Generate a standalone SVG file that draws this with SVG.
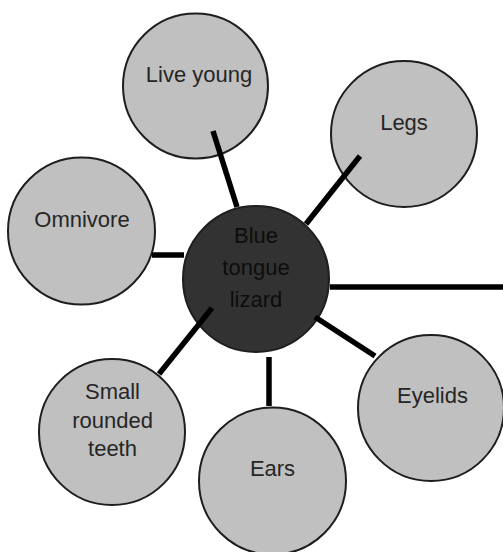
<svg xmlns="http://www.w3.org/2000/svg" width="503" height="552" viewBox="0 0 503 552">
<style>
.outer{fill:#c0c0c0;stroke:#1e1e1e;stroke-width:2}
.center{fill:#323232;stroke:#1e1e1e;stroke-width:2}
text{font-family:"Liberation Sans",Arial,sans-serif;font-size:22px;text-anchor:middle}
.lt{fill:#262626}
.dk{fill:#0d0d0d}
.conn line{stroke:#000;stroke-width:5.5}
</style>
<rect width="503" height="552" fill="#fff"/>
<g id="node-live-young"><circle class="outer" cx="195.5" cy="86" r="72.5"/><text class="lt" x="199" y="82">Live young</text></g>
<g id="node-legs"><circle class="outer" cx="404" cy="134" r="73"/><text class="lt" x="404" y="130">Legs</text></g>
<g id="node-omnivore"><circle class="outer" cx="81.5" cy="231" r="73.5"/><text class="lt" x="82" y="227">Omnivore</text></g>
<g id="node-small-rounded-teeth"><circle class="outer" cx="112" cy="432" r="73"/><text class="lt" x="112.5" y="399">Small</text><text class="lt" x="112.5" y="428">rounded</text><text class="lt" x="112.5" y="456">teeth</text></g>
<g id="node-ears"><circle class="outer" cx="272.5" cy="481" r="73.5"/><text class="lt" x="272.5" y="476">Ears</text></g>
<g id="node-eyelids"><circle class="outer" cx="431" cy="408" r="73"/><text class="lt" x="432.5" y="403">Eyelids</text></g>
<g id="node-blue-tongue-lizard"><circle class="center" cx="256" cy="279" r="73"/><text class="dk" x="256" y="243">Blue</text><text class="dk" x="256" y="275">tongue</text><text class="dk" x="256" y="307">lizard</text></g>
<g id="connectors" class="conn">
<line x1="213" y1="131" x2="237" y2="207"/>
<line x1="360" y1="156" x2="306" y2="224"/>
<line x1="152" y1="255" x2="184" y2="255"/>
<line x1="330" y1="287" x2="503" y2="287"/>
<line x1="212" y1="308" x2="159" y2="374"/>
<line x1="269" y1="357" x2="269" y2="406"/>
<line x1="315" y1="317" x2="375" y2="356"/>
</g>
</svg>
